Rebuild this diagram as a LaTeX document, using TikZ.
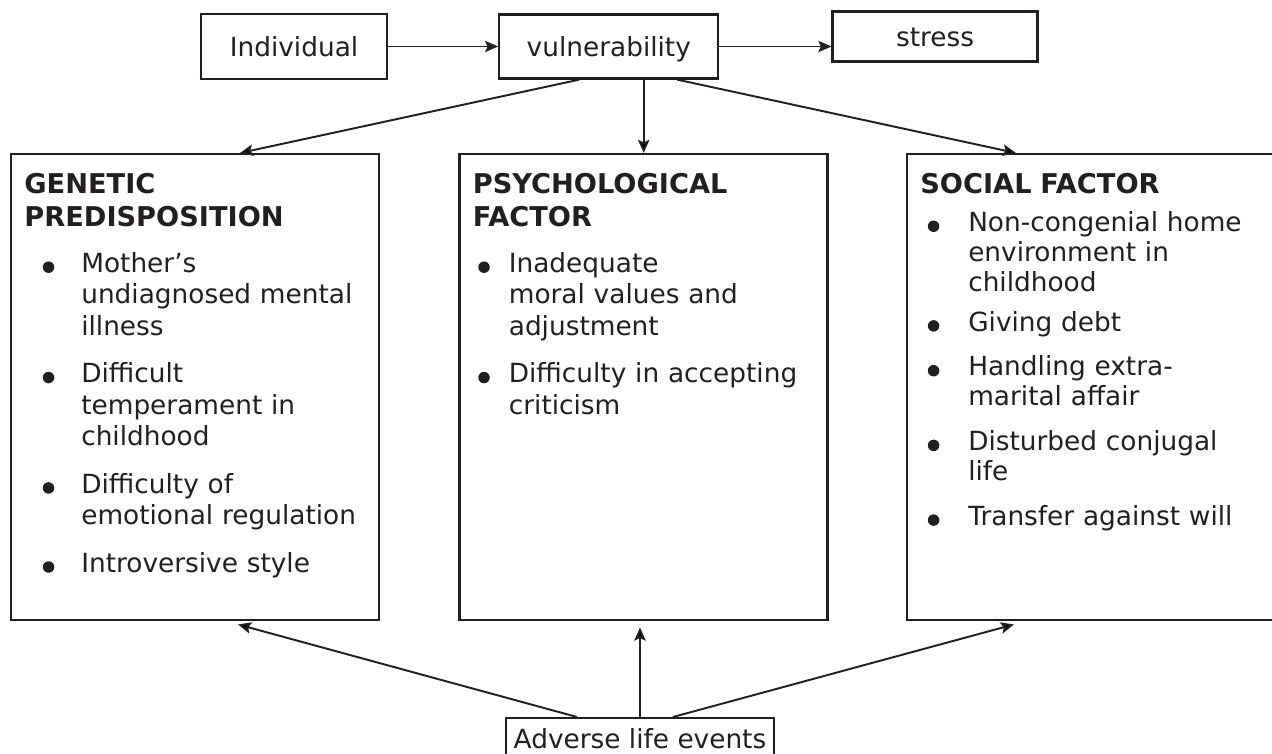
\documentclass[tikz,border=0pt]{standalone}
\usepackage{fontspec}
\setmainfont{DejaVu Sans}
\usepackage{tikz}
\usetikzlibrary{positioning, arrows.meta, calc}
\usepackage{xcolor}

\definecolor{ink}{RGB}{35,31,32}

% bullet list inside the factor boxes
\newlength\bulshift
\newlength\bulind
\newcommand{\bulletdot}{\tikz[baseline=0pt]\fill[ink] (0,0.105cm) circle (0.115cm);}
\newcommand{\fitem}[1]{\par\hangindent=\bulind\hangafter=1\noindent
  \makebox[\bulind][l]{\hspace{\bulshift}\bulletdot}#1\par}
\newcommand{\fhead}[1]{{\fontsize{15.5}{18.8}\selectfont\bfseries\noindent #1\par}}

\begin{document}
\begin{tikzpicture}[
    font=\fontsize{15}{17.8}\selectfont,
    text=ink,
    topbox/.style={rectangle, draw=ink, line width=1.3pt, minimum height=1.28cm, text height=11pt, text depth=0pt, inner sep=0pt},
    factor/.style={rectangle, draw=ink, line width=1.4pt, minimum width=7.36cm, minimum height=9.32cm, inner sep=0pt},
    factortext/.style={anchor=north west, text width=6.80cm, align=left, inner xsep=0.28cm, inner ysep=0.40cm},
    arrow/.style={-{Stealth[length=7.5pt, width=6.5pt, inset=1.5pt]}, line width=1.1pt, draw=ink},
    thinarrow/.style={arrow, line width=0.75pt}
]
\useasboundingbox (0,0) rectangle (25.44,15.08);

% top row
\node (indiv) [topbox, minimum width=3.72cm, minimum height=1.30cm] at (5.88,14.15) {Individual};
\node (vul) [topbox, minimum width=4.38cm, right=2.20cm of indiv] {vulnerability};
\node (stress) [topbox, minimum width=4.10cm, minimum height=1.00cm, right=2.24cm of vul, yshift=0.2cm] {stress};

\draw [thinarrow] (indiv.east) -- (vul.west);
\draw [thinarrow] (vul.east) -- (vul.east -| stress.west);

% factor boxes
\node (gen) [factor, anchor=north west] at (0.20,12.02) {};
\node (psych) [factor, right=1.56cm of gen] {};
\node (social) [factor, right=1.54cm of psych] {};

\node (gentext) [factortext] at (gen.north west) {
    \setlength\parindent{0pt}\setlength\bulshift{10.5pt}\setlength\bulind{32.4pt}%
    \fhead{GENETIC\\PREDISPOSITION}\vspace{8.3pt}
    \fitem{Mother’s\newline undiagnosed mental\newline illness}\vspace{9.4pt}
    \fitem{Difficult\newline temperament in\newline childhood}\vspace{9.4pt}
    \fitem{Difficulty of\newline emotional regulation}\vspace{9.4pt}
    \fitem{Introversive style}
};

\node (psychtext) [factortext] at (psych.north west) {
    \setlength\parindent{0pt}\setlength\bulshift{3.1pt}\setlength\bulind{20.5pt}%
    \fhead{PSYCHOLOGICAL\\FACTOR}\vspace{8.3pt}
    \fitem{Inadequate\newline moral values and\newline adjustment}\vspace{9.4pt}
    \fitem{Difficulty in accepting\newline criticism}
};

\node (socialtext) [factortext, font=\fontsize{15}{17}\selectfont] at (social.north west) {
    \setlength\parindent{0pt}\setlength\bulshift{4.3pt}\setlength\bulind{27.3pt}%
    \fhead{SOCIAL FACTOR}\vspace{4.6pt}
    \fitem{Non-congenial home\newline environment in\newline childhood}\vspace{5.7pt}
    \fitem{Giving debt}\vspace{8.5pt}
    \fitem{Handling extra-\newline marital affair}\vspace{8.5pt}
    \fitem{Disturbed conjugal\newline life}\vspace{8.5pt}
    \fitem{Transfer against will}
};

% vulnerability feeds all three factors
\draw [arrow] ($(vul.south)+(-0.59,0)$) -- ($(gen.north west)+(4.60,0)$);
\draw [arrow] (vul.south -| psych.north) -- (psych.north);
\draw [arrow] ($(vul.south)+(1.37,0)$) -- ($(social.north west)+(2.20,0)$);

% bottom box
\node (adverse) [topbox, minimum width=5.36cm, minimum height=0pt, inner ysep=0.23cm, anchor=north] at (12.80,0.74) {Adverse life events};

\draw [arrow] ($(adverse.north)+(-1.26,0)$) -- ($(gen.south west)+(4.56,-0.06)$);
\draw [arrow] (adverse.north) -- ($(adverse.north |- psych.south)+(0,-0.12)$);
\draw [arrow] ($(adverse.north)+(0.66,0)$) -- ($(social.south west)+(2.16,-0.06)$);

\end{tikzpicture}
\end{document}
